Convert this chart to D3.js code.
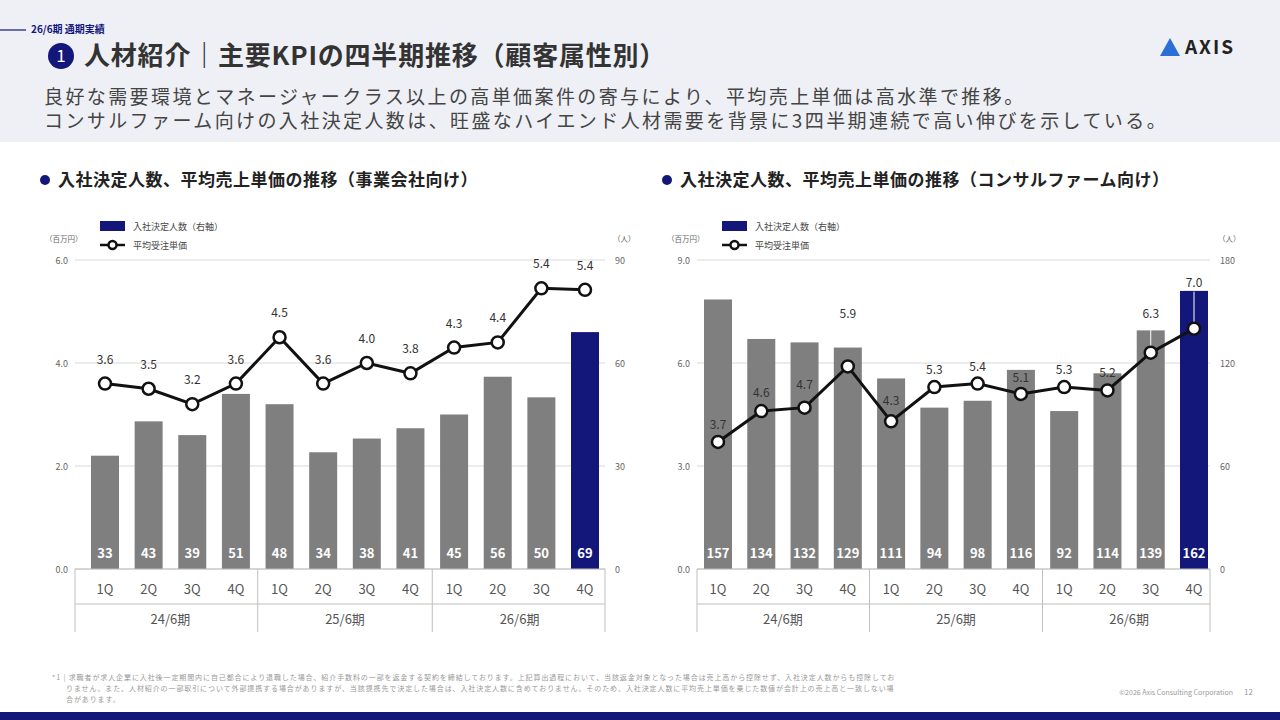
<!DOCTYPE html>
<html><head><meta charset="utf-8">
<script src="https://cdn.jsdelivr.net/npm/d3@7"></script>
<style>body{margin:0;}svg{display:block;font-family:"Noto Sans CJK JP","Noto Sans",sans-serif;}</style>
</head><body><svg id="c" width="1280" height="720"></svg>
<script>
const quarters = ["1Q","2Q","3Q","4Q","1Q","2Q","3Q","4Q","1Q","2Q","3Q","4Q"];
const periods = ["24/6期","25/6期","26/6期"];
const leftHires = [33,43,39,51,48,34,38,41,45,56,50,69];
const leftPrice = [3.6,3.5,3.2,3.6,4.5,3.6,4.0,3.8,4.3,4.4,5.45,5.42];
const leftPriceLabels = ["3.6","3.5","3.2","3.6","4.5","3.6","4.0","3.8","4.3","4.4","5.4","5.4"];
const rightHires = [157,134,132,129,111,94,98,116,92,114,139,162];
const rightPrice = [3.7,4.6,4.7,5.9,4.3,5.3,5.4,5.1,5.3,5.2,6.3,7.0];
const leftTicksL = [0,2,4,6], leftTicksR = [0,30,60,90];
const rightTicksL = [0,3,6,9], rightTicksR = [0,60,120,180];

const NAVY="#14177a", GRAY="#7f7f7f";
const svg=d3.select("#c");
svg.append("rect").attr("width",1280).attr("height",720).attr("fill","#fff");
svg.append("rect").attr("width",1280).attr("height",142).attr("fill","#eef0f6");
svg.append("line").attr("x1",0).attr("x2",26).attr("y1",30).attr("y2",30).attr("stroke",NAVY).attr("stroke-width",1.2);
svg.append("text").attr("x",31).attr("y",33).attr("font-size",10).attr("font-weight",700).attr("fill",NAVY).text("26/6期 通期実績");
svg.append("circle").attr("cx",61).attr("cy",56).attr("r",13).attr("fill",NAVY);
svg.append("text").attr("x",61).attr("y",62).attr("text-anchor","middle").attr("font-size",17).attr("fill","#fff").text("1");
svg.append("text").attr("x",84).attr("y",65).attr("font-size",26).attr("font-weight",700).attr("fill","#333").attr("letter-spacing",0.8).text("人材紹介｜主要KPIの四半期推移（顧客属性別）");
svg.append("text").attr("x",44).attr("y",104).attr("font-size",19).attr("fill","#444").attr("letter-spacing",2.4).text("良好な需要環境とマネージャークラス以上の高単価案件の寄与により、平均売上単価は高水準で推移。");
svg.append("text").attr("x",44).attr("y",128).attr("font-size",19).attr("fill","#444").attr("letter-spacing",2.4).text("コンサルファーム向けの入社決定人数は、旺盛なハイエンド人材需要を背景に3四半期連続で高い伸びを示している。");
// logo
svg.append("path").attr("d","M1160,56 L1170,38 L1180,56 Z").attr("fill","#2a6fd6");
svg.append("text").attr("x",1185).attr("y",54).attr("font-size",19).attr("font-weight",700).attr("fill","#222").attr("letter-spacing",2).text("AXIS");

function chart(x0,x1,c0,c1,title,hires,price,priceLabels,ticksL,ticksR,labelDy,leaders){
  const top=260,bot=569,bw=28;
  const yL=d3.scaleLinear().domain([0,ticksL[3]]).range([bot,top]);
  const yR=d3.scaleLinear().domain([0,ticksR[3]]).range([bot,top]);
  const x=d3.scalePoint().domain(d3.range(12)).range([x0+c0,x1-c1]);
  const cx=i=>x(i);
  const g=svg.append("g");
  g.append("circle").attr("cx",x0-30).attr("cy",180).attr("r",5).attr("fill",NAVY);
  g.append("text").attr("x",x0-17).attr("y",186).attr("font-size",17).attr("font-weight",700).attr("fill","#222").attr("letter-spacing",0.5).text(title);
  ticksL.forEach((t,i)=>{
    g.append("line").attr("x1",x0).attr("x2",x1).attr("y1",yL(t)).attr("y2",yL(t)).attr("stroke","#d9d9d9");
    g.append("text").attr("x",x0-7).attr("y",yL(t)+4).attr("text-anchor","end").attr("font-size",9).attr("fill","#666").text(t.toFixed(1));
    g.append("text").attr("x",x1+10).attr("y",yR(ticksR[i])+4).attr("font-size",9).attr("fill","#666").text(ticksR[i]);
  });
  g.append("text").attr("x",x0-30).attr("y",242).attr("font-size",7.5).attr("fill","#666").text("（百万円）");
  g.append("text").attr("x",x1+8).attr("y",242).attr("font-size",7.5).attr("fill","#666").text("（人）");
  g.append("rect").attr("x",x0+25).attr("y",221).attr("width",25).attr("height",10).attr("fill",NAVY);
  g.append("text").attr("x",x0+58).attr("y",230).attr("font-size",9).attr("fill","#444").text("入社決定人数（右軸）");
  g.append("line").attr("x1",x0+25).attr("x2",x0+50).attr("y1",245).attr("y2",245).attr("stroke","#111").attr("stroke-width",2.5);
  g.append("circle").attr("cx",x0+37.5).attr("cy",245).attr("r",4).attr("fill","#fff").attr("stroke","#111").attr("stroke-width",2.5);
  g.append("text").attr("x",x0+58).attr("y",249).attr("font-size",9).attr("fill","#444").text("平均受注単価");
  g.selectAll(".b").data(hires).join("rect").attr("x",(d,i)=>cx(i)-bw/2).attr("width",bw)
    .attr("y",d=>yR(d)).attr("height",d=>bot-yR(d)).attr("fill",(d,i)=>i===11?NAVY:GRAY);
  g.selectAll(".bl").data(hires).join("text").attr("x",(d,i)=>cx(i)).attr("y",558)
    .attr("text-anchor","middle").attr("font-size",13).attr("font-weight",700).attr("fill","#fff").text(d=>d);
  leaders.forEach(i=>{
    g.append("line").attr("x1",cx(i)).attr("x2",cx(i))
      .attr("y1",yL(price[i])+labelDy[i]+5).attr("y2",yL(price[i])).attr("stroke","#fff").attr("stroke-width",1);
  });
  g.append("path").datum(price).attr("d",d3.line().x((d,i)=>cx(i)).y(d=>yL(d)))
    .attr("fill","none").attr("stroke","#111").attr("stroke-width",3);
  g.selectAll(".p").data(price).join("circle").attr("cx",(d,i)=>cx(i)).attr("cy",d=>yL(d)).attr("r",6)
    .attr("fill","#fff").attr("stroke","#111").attr("stroke-width",2.5);
  g.selectAll(".pl").data(priceLabels).join("text").attr("x",(d,i)=>cx(i)).attr("y",(d,i)=>yL(price[i])+labelDy[i])
    .attr("text-anchor","middle").attr("font-size",12).attr("fill","#333").text(d=>d);
  g.append("line").attr("x1",x0).attr("x2",x1).attr("y1",bot).attr("y2",bot).attr("stroke","#bfbfbf");
  g.append("line").attr("x1",x0).attr("x2",x1).attr("y1",604).attr("y2",604).attr("stroke","#bfbfbf");
  quarters.forEach((q,i)=>g.append("text").attr("x",cx(i)).attr("y",594).attr("text-anchor","middle").attr("font-size",13).attr("fill","#555").text(q));
  [0,4,8,12].forEach(k=>{
    const xx=k===0?x0:k===12?x1:(cx(k-1)+cx(k))/2;
    g.append("line").attr("x1",xx).attr("x2",xx).attr("y1",bot).attr("y2",632).attr("stroke","#bfbfbf");
  });
  periods.forEach((p,j)=>g.append("text").attr("x",(cx(j*4+1)+cx(j*4+2))/2).attr("y",624).attr("text-anchor","middle").attr("font-size",13).attr("fill","#555").text(p));
}
chart(75,605,30,20,"入社決定人数、平均売上単価の推移（事業会社向け）",leftHires,leftPrice,leftPriceLabels,leftTicksL,leftTicksR,
  Array(12).fill(-20),[]);
chart(697,1210,21,16,"入社決定人数、平均売上単価の推移（コンサルファーム向け）",rightHires,rightPrice,rightPrice.map(d=>d.toFixed(1)),rightTicksL,rightTicksR,
  [-13,-14,-19,-48,-16,-13,-13,-12,-13,-13,-35,-42],[10,11]);

const fn=svg.append("g").attr("font-size",7).attr("fill","#999").attr("letter-spacing",0.9);
fn.append("text").attr("x",52).attr("y",680).text("*1 | 求職者が求人企業に入社後一定期間内に自己都合により退職した場合、紹介手数料の一部を返金する契約を締結しております。上記算出過程において、当該返金対象となった場合は売上高から控除せず、入社決定人数からも控除してお");
fn.append("text").attr("x",66).attr("y",691).text("りません。また、人材紹介の一部取引について外部提携する場合がありますが、当該提携先で決定した場合は、入社決定人数に含めておりません。そのため、入社決定人数に平均売上単価を乗じた数値が会計上の売上高と一致しない場");
fn.append("text").attr("x",66).attr("y",702).text("合があります。");
svg.append("text").attr("x",1233).attr("y",695).attr("text-anchor","end").attr("font-size",7).attr("fill","#999").text("©2026 Axis Consulting Corporation");
svg.append("text").attr("x",1253).attr("y",695).attr("text-anchor","end").attr("font-size",8).attr("fill","#999").text("12");
svg.append("rect").attr("x",0).attr("y",712).attr("width",1280).attr("height",8).attr("fill",NAVY);
</script></body></html>
